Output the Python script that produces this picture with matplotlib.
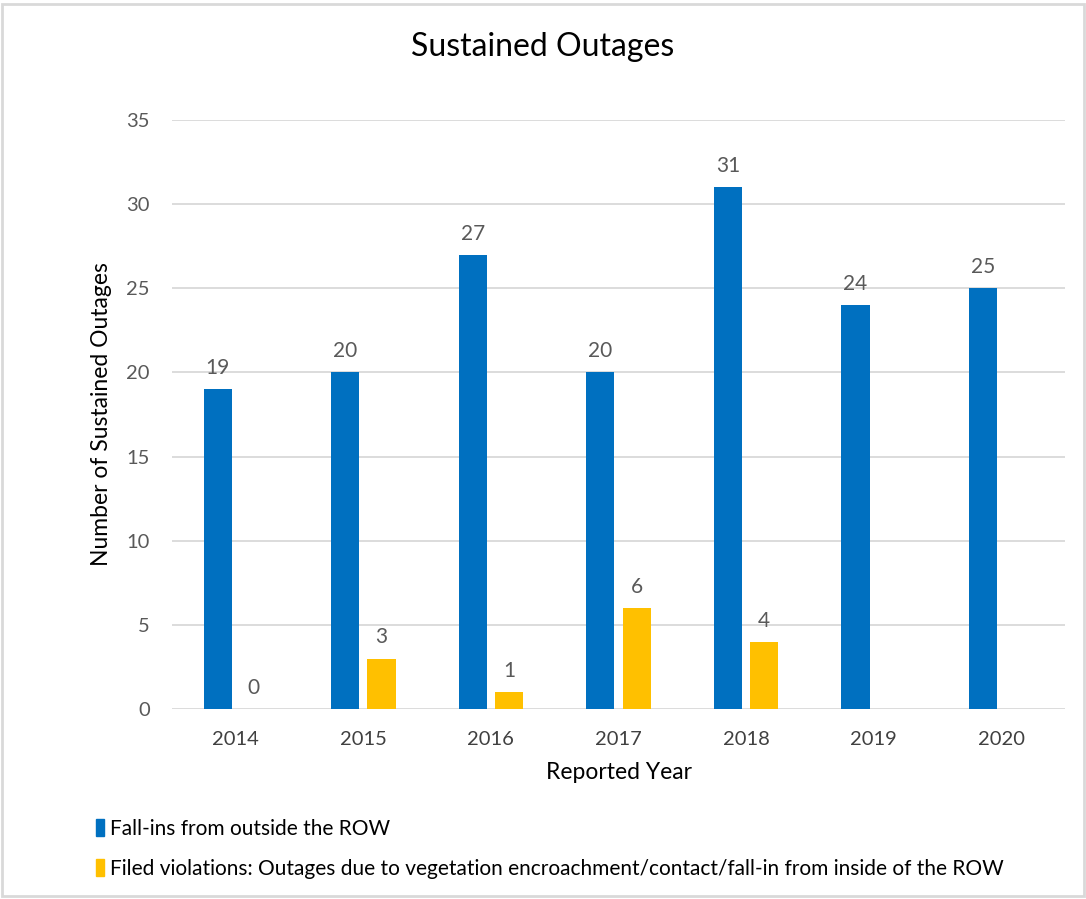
import numpy as np
import matplotlib.pyplot as plt
from matplotlib.patches import Patch, Rectangle

plt.rcParams["font.family"] = ["Lato", "DejaVu Sans"]

# data
years = ["2014", "2015", "2016", "2017", "2018", "2019", "2020"]
fall_ins = [19, 20, 27, 20, 31, 24, 25]
violations = [0, 3, 1, 6, 4, np.nan, np.nan]

blue = "#0070C0"
yellow = "#FFC000"
label_grey = "#595959"

fig = plt.figure(figsize=(10.86, 8.99), dpi=100)
ax = fig.add_axes([172 / 1086, 1 - 709 / 899, (1065 - 172) / 1086, (709 - 120) / 899])

x = np.arange(len(years))
w = 0.22
off = 0.142
b1 = ax.bar(x - off, fall_ins, width=w, color=blue, zorder=3)
b2 = ax.bar(x + off, violations, width=w, color=yellow, zorder=3)

for bars, vals in ((b1, fall_ins), (b2, violations)):
    for rect, v in zip(bars, vals):
        if np.isnan(v):
            continue
        ax.annotate(f"{int(v)}", (rect.get_x() + rect.get_width() / 2, v),
                    xytext=(0, 8), textcoords="offset points",
                    ha="center", va="bottom", fontsize=15, color=label_grey)

ax.set_xlim(-0.5, len(years) - 0.5)
ax.set_ylim(0, 35)
ax.set_yticks(np.arange(0, 36, 5))
ax.set_xticks(x)
ax.set_xticklabels(years)
ax.tick_params(axis="both", length=0, labelsize=14.5, labelcolor=label_grey)
ax.tick_params(axis="x", labelcolor="#404040", pad=16)
ax.tick_params(axis="y", pad=16)
ax.grid(axis="y", color="#D9D9D9", linewidth=1.3, zorder=0)
for s in ax.spines.values():
    s.set_visible(False)

fig.text(0.5, 1 - 47 / 899, "Sustained Outages", ha="center", va="center", fontsize=23)
ax.set_xlabel("Reported Year", fontsize=16.5, labelpad=10)
ax.set_ylabel("Number of Sustained Outages", fontsize=16.5, labelpad=10)

handles = [Patch(color=blue, label="Fall-ins from outside the ROW"),
           Patch(color=yellow, label="Filed violations: Outages due to vegetation "
                 "encroachment/contact/fall-in from inside of the ROW")]
fig.legend(handles=handles, loc="upper left", bbox_to_anchor=(77 / 1086, 1 - 800 / 899),
           frameon=False, fontsize=15, handlelength=0.4, handleheight=0.9,
           handletextpad=0.3, labelspacing=0.95)

# light grey frame around the chart
fig.patches.append(Rectangle((0.002, 0.003), 0.996, 0.992, transform=fig.transFigure,
                             fill=False, edgecolor="#D9D9D9", linewidth=2))

fig.savefig("out.png", dpi=100)
